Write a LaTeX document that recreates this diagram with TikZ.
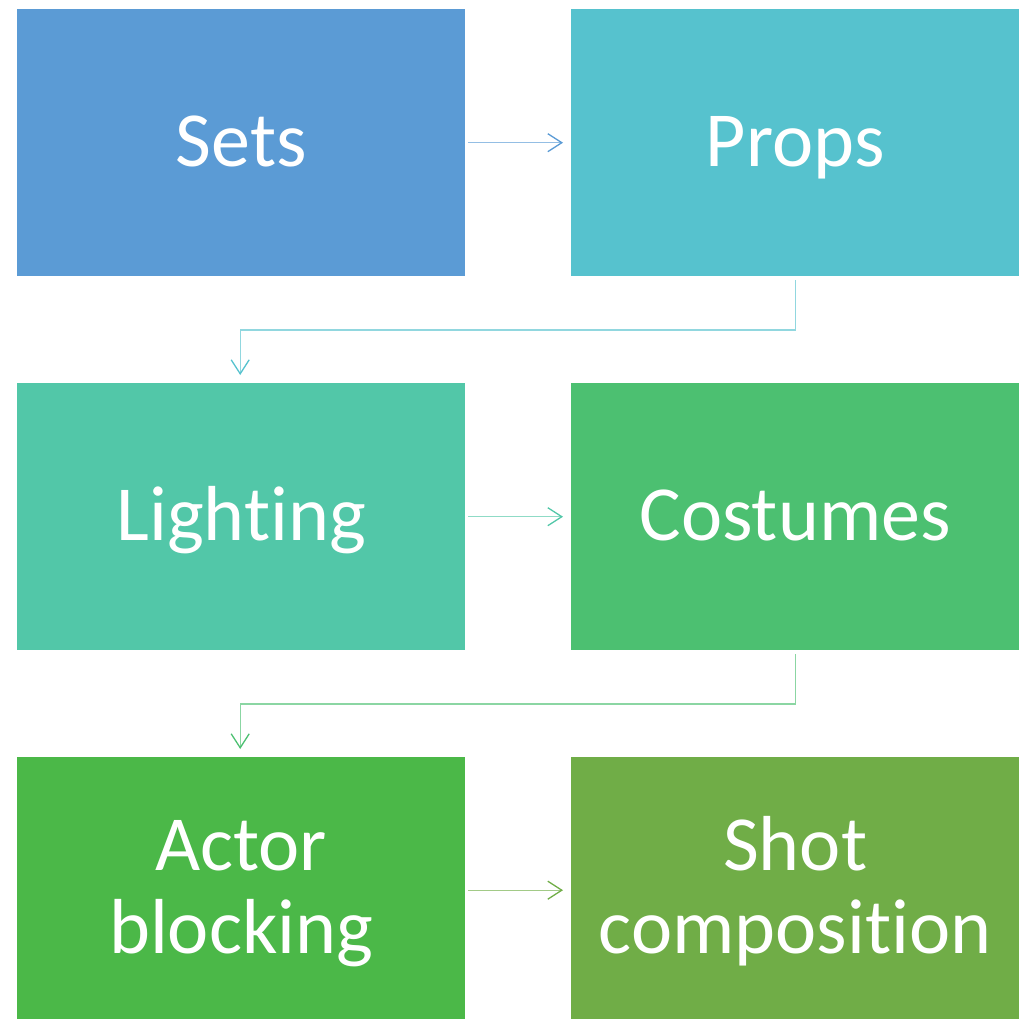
\documentclass[tikz,border=0pt]{standalone}
\usepackage{fontspec}
\setmainfont[Ligatures={NoCommon}]{Carlito}
\usetikzlibrary{arrows.meta}
\definecolor{cA}{HTML}{5B9BD5}
\definecolor{cB}{HTML}{56C2CE}
\definecolor{cC}{HTML}{52C7A8}
\definecolor{cD}{HTML}{4CC071}
\definecolor{cE}{HTML}{4BB848}
\definecolor{cF}{HTML}{70AD47}
\tikzset{
  box/.style={draw=none, minimum width=448pt, minimum height=267pt, inner sep=0pt,
    text=white, font=\fontsize{78}{83}\selectfont, align=center,
    text height=60pt, text depth=12pt},
  twoline/.style={minimum height=262pt, text height=143pt},
  conn/.style={line width=1.3pt, draw=#1!65, -{Straight Barb[length=14pt,width=18pt,line width=1.3pt,color=#1]}},
}
\begin{document}
\begin{tikzpicture}[x=1pt,y=-1pt]
\useasboundingbox (0,0) rectangle (1023,1019);
\node[box, fill=cA, anchor=north west] (sets) at (17,9) {Sets};
\node[box, fill=cB, anchor=north west] (props) at (571,9) {Props};
\node[box, fill=cC, anchor=north west] (light) at (17,383) {Lighting};
\node[box, fill=cD, anchor=north west] (cost) at (571,383) {Costumes};
\node[box, twoline, fill=cE, anchor=north west] (actor) at (17,757) {Actor\\blocking};
\node[box, twoline, fill=cF, anchor=north west] (shot) at (571,757) {Shot\\composition};
\draw[conn=cA] ([xshift=3pt]sets.east) -- ([xshift=-8pt]props.west);
\draw[conn=cC] ([xshift=3pt]light.east) -- ([xshift=-8pt]cost.west);
\draw[conn=cF] ([xshift=3pt,yshift=-2pt]actor.east) -- ([xshift=-8pt,yshift=-2pt]shot.west);
\coordinate (p1) at ([yshift=-4pt]props.south);
\coordinate (l1) at ([xshift=-1pt,yshift=8pt]light.north);
\draw[conn=cB] (p1) -- (p1 |- 0,330) -- (l1 |- 0,330) -- (l1);
\coordinate (c1) at ([yshift=-4pt]cost.south);
\coordinate (a1) at ([xshift=-1pt,yshift=8pt]actor.north);
\draw[conn=cD] (c1) -- (c1 |- 0,704) -- (a1 |- 0,704) -- (a1);
\end{tikzpicture}
\end{document}
